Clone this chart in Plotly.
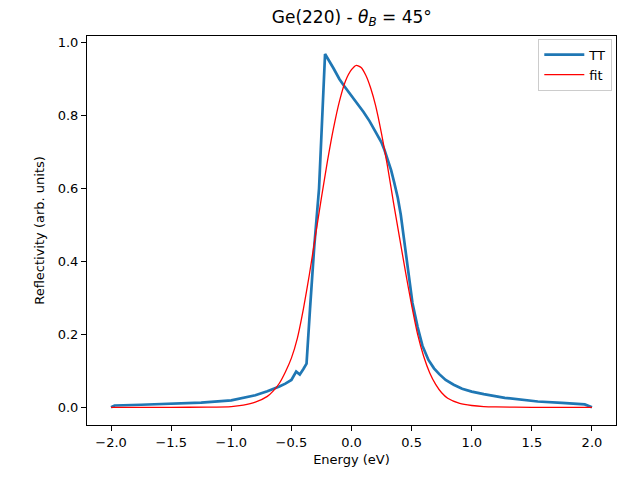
import plotly.graph_objects as go

# TT curve
tt_x = [-2.0, -1.97, -1.75, -1.5, -1.25, -1.0, -0.9, -0.8, -0.7, -0.65, -0.6, -0.55, -0.5, -0.46,
        -0.43, -0.4, -0.374, -0.345, -0.31, -0.27, -0.24, -0.22, -0.15, -0.1, -0.058, 0.0, 0.05,
        0.1, 0.15, 0.2, 0.25, 0.273, 0.3, 0.33, 0.355, 0.385, 0.41, 0.43, 0.45, 0.48, 0.507, 0.55,
        0.59, 0.64, 0.686, 0.73, 0.783, 0.85, 0.92, 1.0, 1.1, 1.275, 1.4, 1.55, 1.75, 1.94, 2.0]
tt_y = [0.0, 0.005, 0.007, 0.009, 0.013, 0.019, 0.025, 0.033, 0.044, 0.05, 0.057, 0.065, 0.075,
        0.098, 0.09, 0.105, 0.12, 0.27, 0.44, 0.6, 0.82, 0.969, 0.93, 0.9, 0.88, 0.855, 0.833,
        0.81, 0.785, 0.757, 0.726, 0.707, 0.68, 0.65, 0.617, 0.575, 0.528, 0.48, 0.43, 0.355,
        0.286, 0.22, 0.169, 0.13, 0.107, 0.091, 0.075, 0.062, 0.051, 0.043, 0.036, 0.026, 0.021,
        0.016, 0.012, 0.008, 0.0]

# fit curve
fit_x = [-2.0, -1.5, -1.2, -1.0, -0.9, -0.8, -0.7, -0.65, -0.6, -0.55, -0.5, -0.45, -0.4, -0.35,
         -0.3, -0.25, -0.2, -0.15, -0.1, -0.05, 0.0, 0.04, 0.08, 0.12, 0.16, 0.2, 0.25, 0.3, 0.35,
         0.4, 0.45, 0.5, 0.55, 0.6, 0.65, 0.7, 0.75, 0.8, 0.9, 1.0, 1.1, 1.2, 1.5, 2.0]
fit_y = [0.0, 0.0, 0.0005, 0.002, 0.006, 0.014, 0.03, 0.045, 0.066, 0.097, 0.135, 0.19, 0.27,
         0.365, 0.47, 0.575, 0.675, 0.765, 0.84, 0.895, 0.926, 0.938, 0.932, 0.91, 0.875, 0.828,
         0.75, 0.66, 0.56, 0.465, 0.37, 0.28, 0.2, 0.14, 0.095, 0.063, 0.04, 0.025, 0.011, 0.005,
         0.002, 0.001, 0.0, 0.0]

x_ticks = [-2.0, -1.5, -1.0, -0.5, 0.0, 0.5, 1.0, 1.5, 2.0]
y_ticks = [0.0, 0.2, 0.4, 0.6, 0.8, 1.0]

font = "DejaVu Sans"

fig = go.Figure()
fig.add_trace(go.Scatter(x=tt_x, y=tt_y, mode="lines", name="TT",
                         line=dict(color="#1f77b4", width=2.7)))
fig.add_trace(go.Scatter(x=fit_x, y=fit_y, mode="lines", name="fit",
                         line=dict(color="red", width=1.3, shape="spline", smoothing=0.6)))

axis_common = dict(showgrid=False, zeroline=False, showline=True, linecolor="black",
                   linewidth=1, mirror=True, ticks="outside", ticklen=5, tickcolor="black",
                   tickwidth=1, tickfont=dict(family=font, size=13, color="black"))

fig.update_layout(
    width=631, height=477,
    margin=dict(l=87, r=15, t=36, b=47),
    plot_bgcolor="white", paper_bgcolor="white",
    font=dict(family=font, color="black"),
    title=dict(text="Ge(220) - <i>θ</i><sub><i>B</i></sub> = 45°", x=0.5575, xanchor="center",
               y=0.965, yanchor="middle", font=dict(family=font, size=17, color="black")),
    xaxis=dict(range=[-2.2, 2.2], tickvals=x_ticks, ticktext=[f"{v:.1f}".replace("-", "−") for v in x_ticks],
               title=dict(text="Energy (eV)", font=dict(family=font, size=13), standoff=6),
               **axis_common),
    yaxis=dict(range=[-0.0485, 1.0185], tickvals=y_ticks, ticktext=[f"{v:.1f}" for v in y_ticks],
               title=dict(text="Reflectivity (arb. units)", font=dict(family=font, size=13), standoff=10),
               **axis_common),
    legend=dict(x=0.993, y=0.993, xanchor="right", yanchor="top", bgcolor="rgba(255,255,255,0.8)",
                bordercolor="#cccccc", borderwidth=1, font=dict(family=font, size=13),
                itemwidth=40, tracegroupgap=0),
    showlegend=True,
)

fig.write_html("out.html")
